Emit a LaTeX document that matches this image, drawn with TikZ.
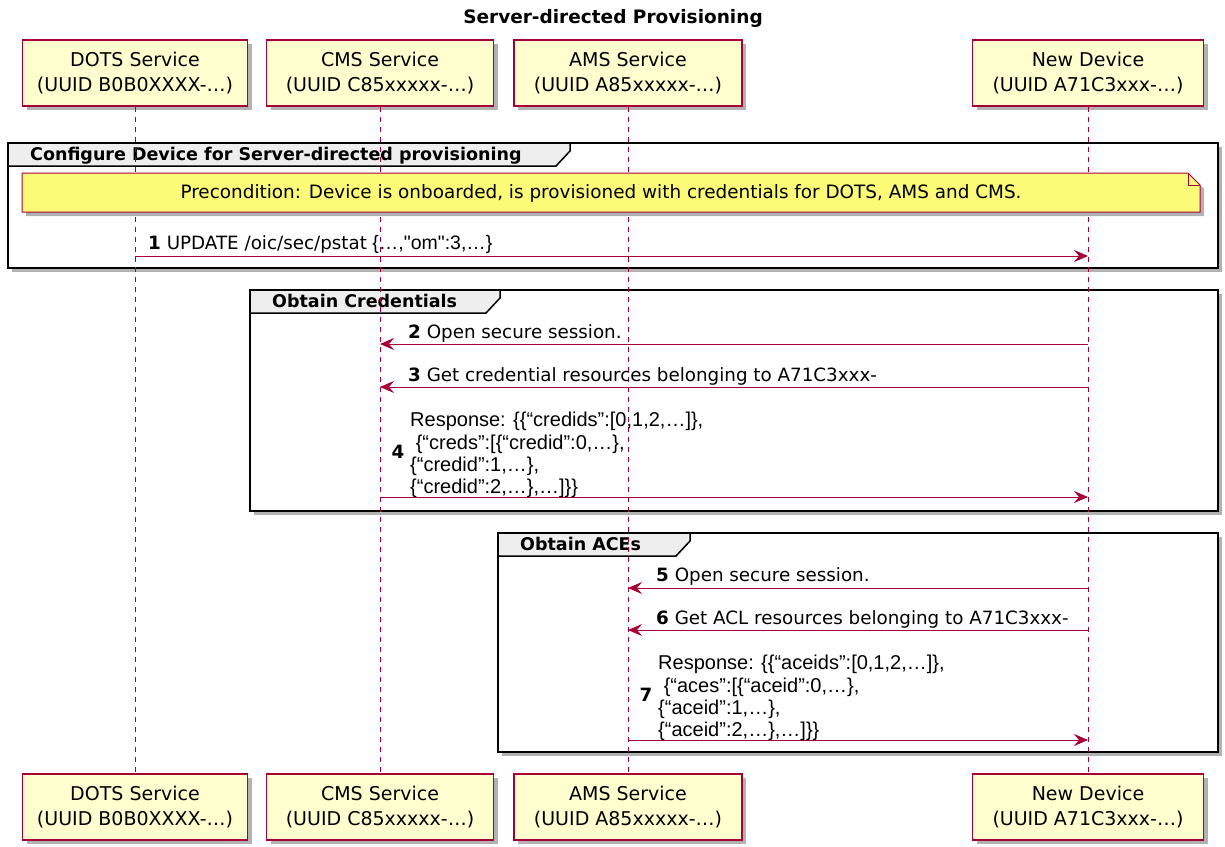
\documentclass[tikz,border=0pt]{standalone}
\usepackage{fontspec}
\setmainfont{DejaVu Sans}
\newfontfamily\jsonfont{Liberation Sans}
\usetikzlibrary{arrows.meta,shadows}
\definecolor{puborder}{HTML}{A80036}
\definecolor{pufill}{HTML}{FEFECE}
\definecolor{notefill}{HTML}{FBFB77}
\definecolor{tabfill}{HTML}{EEEEEE}
\tikzset{
  part/.style={draw=puborder, fill=pufill, line width=1.5pt, minimum height=66pt,
    align=center, inner sep=0pt, font=\fontsize{19}{25}\selectfont,
    drop shadow={shadow xshift=4pt, shadow yshift=-4pt, opacity=0.3, fill=black}},
  life/.style={draw=puborder, line width=0.9pt, dash pattern=on 5pt off 5pt},
  msg/.style={draw=puborder, line width=1pt, -{Stealth[length=14pt,width=12pt,inset=5pt]}},
  lbl/.style={anchor=base west, inner sep=0pt, font=\fontsize{18.3}{22}\selectfont},
  json/.style={anchor=west, inner sep=0pt, align=left, font=\jsonfont\fontsize{20}{22.3}\selectfont},
  num/.style={inner sep=0pt, font=\bfseries\fontsize{18.3}{22}\selectfont},
  frame/.style={draw=black, line width=2.2pt, fill=white,
    drop shadow={shadow xshift=4pt, shadow yshift=-4pt, opacity=0.3, fill=black}},
  tab/.style={draw=black, line width=1.5pt, fill=tabfill},
  tablbl/.style={anchor=base west, inner sep=0pt, font=\bfseries\fontsize{17.5}{20}\selectfont},
  notebox/.style={draw=puborder, line width=1pt, fill=notefill,
    drop shadow={shadow xshift=4pt, shadow yshift=-4pt, opacity=0.3, fill=black}}
}
\begin{document}
\begin{tikzpicture}[x=1pt,y=-1pt]
\useasboundingbox[fill=white] (0,0) rectangle (1225,846);

% title
\node[inner sep=0pt, font=\bfseries\fontsize{18.5}{22}\selectfont] (title) at (613,18) {Server-directed Provisioning};

% groups (frames and tabs)
\path[frame] (8,143) rectangle (1218,268);
\path[tab] (8,143) -- (570,143) -- (570,151) -- (556,166) -- (8,166) -- cycle;
\node[tablbl] (g1) at (30,160) {Configure Device for Server-directed provisioning};

\path[frame] (250,290) rectangle (1218,511);
\path[tab] (250,290) -- (500,290) -- (500,298) -- (486,313) -- (250,313) -- cycle;
\node[tablbl] (g2) at (272,307) {Obtain Credentials};

\path[frame] (498,533) rectangle (1218,752);
\path[tab] (498,533) -- (690,533) -- (690,541) -- (676,556) -- (498,556) -- cycle;
\node[tablbl] (g3) at (520,550) {Obtain ACEs};

% participants
\node[part, minimum width=225pt] (dotsT) at (135,73) {DOTS Service\\(UUID B0B0XXXX-…)};
\node[part, minimum width=227pt] (cmsT) at (380,73) {CMS Service\\(UUID C85xxxxx-…)};
\node[part, minimum width=228pt] (amsT) at (628,73) {AMS Service\\(UUID A85xxxxx-…)};
\node[part, minimum width=231pt] (devT) at (1088,73) {New Device\\(UUID A71C3xxx-…)};

\node[part, minimum width=225pt] (dotsB) at (135,807) {DOTS Service\\(UUID B0B0XXXX-…)};
\node[part, minimum width=227pt] (cmsB) at (380,807) {CMS Service\\(UUID C85xxxxx-…)};
\node[part, minimum width=228pt] (amsB) at (628,807) {AMS Service\\(UUID A85xxxxx-…)};
\node[part, minimum width=231pt] (devB) at (1088,807) {New Device\\(UUID A71C3xxx-…)};

% lifelines
\draw[life] (dotsT.south) -- (dotsB.north);
\draw[life] (cmsT.south) -- (cmsB.north);
\draw[life] (amsT.south) -- (amsB.north);
\draw[life] (devT.south) -- (devB.north);

% note
\path[notebox] (22,173) -- (1188,173) -- (1200,185) -- (1200,212) -- (22,212) -- cycle;
\draw[puborder, line width=1pt] (1188,173) -- (1188,185) -- (1200,185);
\node[inner sep=0pt, font=\fontsize{18.4}{20}\selectfont] (note) at (601,193) {Precondition: Device is onboarded, is provisioned with credentials for DOTS, AMS and CMS.};

% message 1
\draw[msg] (dotsT |- 0,256) -- (devT |- 0,256);
\node[lbl] (l1) at (148,249) {\textbf{1} UPDATE /oic/sec/pstat{\jsonfont\fontsize{19.5}{22}\selectfont\ \{…,"om":3,…\}}};

% message 2, 3, 4
\draw[msg] (devT |- 0,344) -- (cmsT |- 0,344);
\node[lbl] (l2) at (408,338) {\textbf{2} Open secure session.};
\draw[msg] (devT |- 0,387) -- (cmsT |- 0,387);
\node[lbl] (l3) at (408,381) {\textbf{3} Get credential resources belonging to A71C3xxx-};
\draw[msg] (cmsT |- 0,497) -- (devT |- 0,497);
\node[num] (n4) at (398,452) {4};
\node[json] (l4) at (410,455) {Response: \{\{“credids”:[0,1,2,…]\},\\\ \{“creds”:[\{“credid”:0,…\},\\\{“credid”:1,…\},\\\{“credid”:2,…\},…]\}\}};

% message 5, 6, 7
\draw[msg] (devT |- 0,588) -- (amsT |- 0,588);
\node[lbl] (l5) at (656,581) {\textbf{5} Open secure session.};
\draw[msg] (devT |- 0,630) -- (amsT |- 0,630);
\node[lbl] (l6) at (656,624) {\textbf{6} Get ACL resources belonging to A71C3xxx-};
\draw[msg] (amsT |- 0,740) -- (devT |- 0,740);
\node[num] (n7) at (646,695) {7};
\node[json] (l7) at (658,698) {Response: \{\{“aceids”:[0,1,2,…]\},\\\ \{“aces”:[\{“aceid”:0,…\},\\\{“aceid”:1,…\},\\\{“aceid”:2,…\},…]\}\}};
\end{tikzpicture}
\end{document}
